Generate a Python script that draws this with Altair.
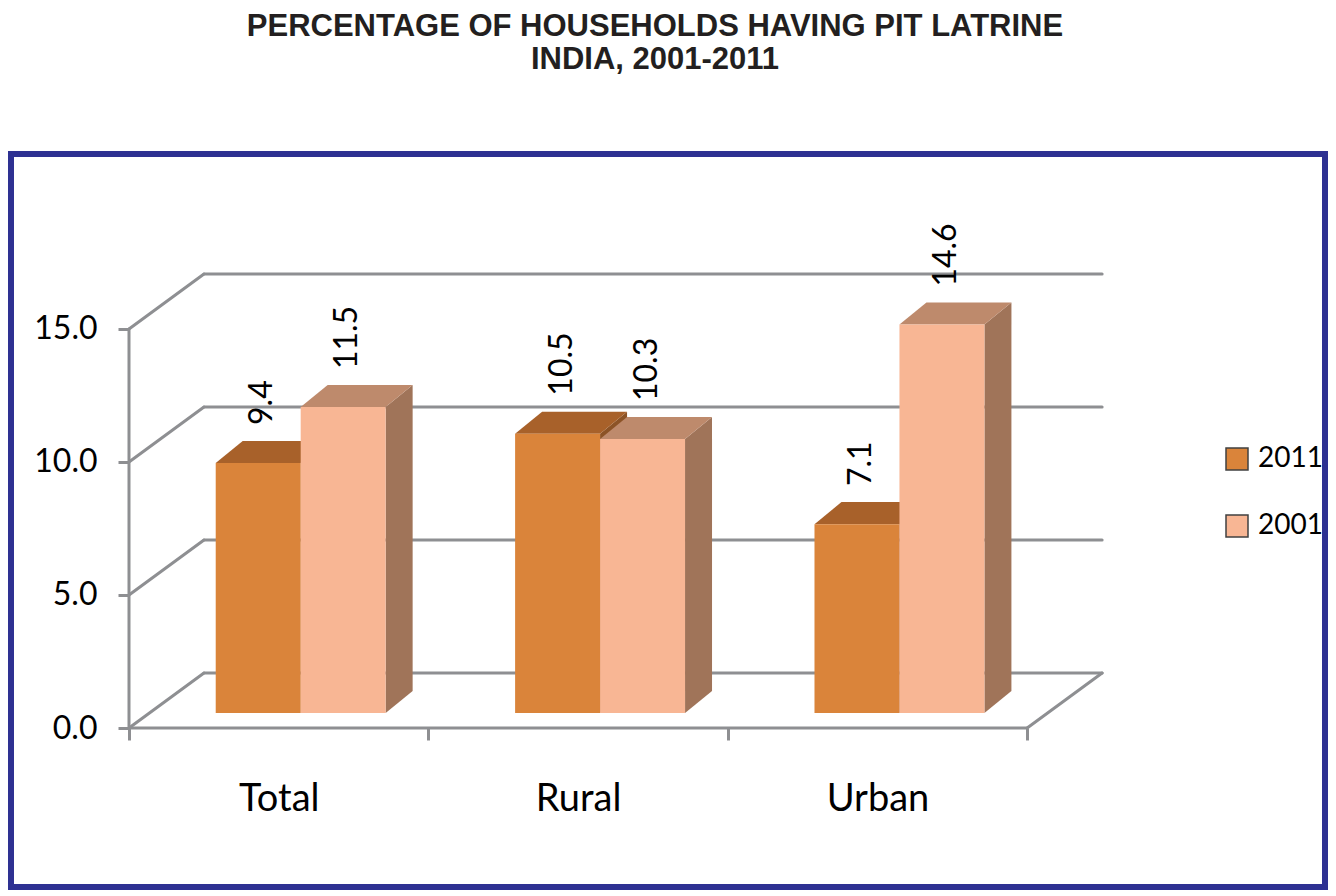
import json
import altair as alt
import pandas as pd

# ---------------- data ----------------
categories = ["Total", "Rural", "Urban"]
series = ["2011", "2001"]
values_2011 = [9.4, 10.5, 7.1]
values_2001 = [11.5, 10.3, 14.6]
y_ticks = [0, 5, 10, 15]

# ---------------- layout / style ----------------
PXU = 299.5      # px per category slot
PYU = 26.6       # px per percent
XMAX = 3.26
YMAX = 20.6
W = round(XMAX * PXU)
H = round(YMAX * PYU)
PAD_L, PAD_T = 121, 172
CANVAS_W, CANVAS_H = 1320, 882
PAD_R = CANVAS_W - PAD_L - W
PAD_B = CANVAS_H - PAD_T - H

BACK_X, BACK_Y = 75 / PXU, 55 / PYU     # depth of the floor / wall
FRONT_X, FRONT_Y = 22 / PXU, 15 / PYU   # position of bars' front plane
DEP_X, DEP_Y = 27 / PXU, 22 / PYU       # depth of the bars
BW = 85 / PXU                            # bar width
NCAT = len(categories)

GRID = "#8E8F92"
FRONT = {"2011": "#DA843A", "2001": "#F8B694"}
TOP = {"2011": "#A8612A", "2001": "#BE8A6C"}
SIDE = {"2011": "#8C5326", "2001": "#A07459"}
FONT = "Lato"

# ---------------- tables built from the arrays ----------------
vals = {"2011": values_2011, "2001": values_2001}
bars = []
for i, cat in enumerate(categories):
    center = i + 0.5 + FRONT_X
    for s, name in enumerate(series):
        v = vals[name][i]
        xl = center - BW + s * BW
        bars.append(dict(cat=cat, series=name, value=v, label=f"{v:.1f}",
                         xl=xl, xr=xl + BW, yb=FRONT_Y, yt=FRONT_Y + v,
                         xc=xl + BW / 2 + 4 / PXU))
bars = pd.DataFrame(bars)

tops, sides = [], []
for _, r in bars.iterrows():
    key = r["cat"] + r["series"]
    tops.append(dict(key=key, series=r["series"], y=r["yt"], x=r["xl"], x2=r["xr"]))
    tops.append(dict(key=key, series=r["series"], y=r["yt"] + DEP_Y, x=r["xl"] + DEP_X, x2=r["xr"] + DEP_X))
    sides.append(dict(key=key, series=r["series"], x=r["xr"], y=r["yt"], y2=r["yb"]))
    sides.append(dict(key=key, series=r["series"], x=r["xr"] + DEP_X, y=r["yt"] + DEP_Y, y2=r["yb"] + DEP_Y))
tops = pd.DataFrame(tops)
sides = pd.DataFrame(sides)

lines = []
for t in y_ticks:
    lines.append(dict(x=0, y=t, x2=BACK_X, y2=t + BACK_Y))
    lines.append(dict(x=BACK_X, y=t + BACK_Y, x2=NCAT + BACK_X, y2=t + BACK_Y))
lines.append(dict(x=0, y=0, x2=NCAT, y2=0))
lines.append(dict(x=NCAT, y=0, x2=NCAT + BACK_X, y2=BACK_Y))
lines.append(dict(x=0, y=0, x2=0, y2=max(y_ticks)))
lines = pd.DataFrame(lines)

# ---------------- scales / axes ----------------
xscale = alt.Scale(domain=[0, XMAX], nice=False, zero=False)
yscale = alt.Scale(domain=[0, YMAX], nice=False, zero=False)
xaxis = alt.Axis(values=list(range(NCAT + 1)), title=None, domain=False, grid=False,
                 labelExpr=f"{json.dumps(categories)}[datum.value] || ''",
                 labelOffset=PXU / 2, labelFontSize=38, labelFont=FONT, labelColor="black",
                 labelPadding=40, tickSize=12, tickWidth=3, tickColor=GRID,
                 labelOverlap=False, labelFlush=False, labelBaseline="top", zindex=1)
yaxis = alt.Axis(values=y_ticks, title=None, domain=False, grid=False, format=".1f",
                 labelFontSize=32, labelFont=FONT, labelColor="black", labelPadding=21,
                 tickSize=11, tickWidth=3, tickColor=GRID, zindex=1)


def X(field):
    return alt.X(field, type="quantitative", scale=xscale, axis=xaxis)


def Y(field):
    return alt.Y(field, type="quantitative", scale=yscale, axis=yaxis)


frame = alt.Chart(pd.DataFrame({"a": [0]})).mark_rect(
    filled=False, stroke="#2E3192", strokeWidth=6
).encode(x=alt.value(-PAD_L + 3), x2=alt.value(W + PAD_R - 3),
         y=alt.value(-26), y2=alt.value(H + PAD_B - 3))

grid = alt.Chart(lines).mark_rule(color=GRID, strokeWidth=3, strokeCap="round").encode(
    x=X("x"), x2="x2", y=Y("y"), y2="y2")

layers = [frame, grid]
color_scale = alt.Scale(domain=series, range=[FRONT[s] for s in series])
for name in series:
    side = alt.Chart(sides).transform_filter(alt.datum.series == name).mark_area(
        orient="vertical", color=SIDE[name]).encode(
        x=X("x"), y=Y("y"), y2="y2", detail="key:N")
    top = alt.Chart(tops).transform_filter(alt.datum.series == name).mark_area(
        orient="horizontal", color=TOP[name]).encode(
        y=Y("y"), x=X("x"), x2="x2", detail="key:N")
    front = alt.Chart(bars).transform_filter(alt.datum.series == name).mark_rect().encode(
        x=X("xl"), x2="xr", y=Y("yb"), y2="yt",
        color=alt.Color("series:N", scale=color_scale, sort=series,
                        legend=alt.Legend(title=None)))
    layers += [side, top, front]

labels = alt.Chart(bars).transform_calculate(
    ylab=f"datum.yt + {DEP_Y} + {16 / PYU}"
).mark_text(angle=270, align="left", baseline="middle", fontSize=32, font=FONT,
            color="black").encode(x=X("xc"), y=Y("ylab:Q"), text="label:N")
layers.append(labels)

chart = alt.layer(*layers).properties(
    width=W, height=H,
    autosize=alt.AutoSizeParams(type="none"),
    padding={"left": PAD_L, "top": PAD_T, "right": PAD_R, "bottom": PAD_B},
    background="white",
    title=alt.TitleParams(
        text=["PERCENTAGE OF HOUSEHOLDS HAVING PIT LATRINE", "INDIA, 2001-2011"],
        font="Liberation Sans", fontSize=31, fontWeight="bold", color="#231F20",
        anchor="middle", dx=38, offset=75, lineHeight=33),
).configure_view(stroke=None).configure_legend(
    orient="none", legendX=1094, legendY=265, symbolType="square", symbolSize=484,
    symbolStrokeColor="#404040", symbolStrokeWidth=1.5, symbolOpacity=1,
    labelFontSize=28, labelFont=FONT, labelColor="black", labelOffset=7,
    rowPadding=39,
)

chart.save("out.html", embed_options={"renderer": "svg", "actions": False})
